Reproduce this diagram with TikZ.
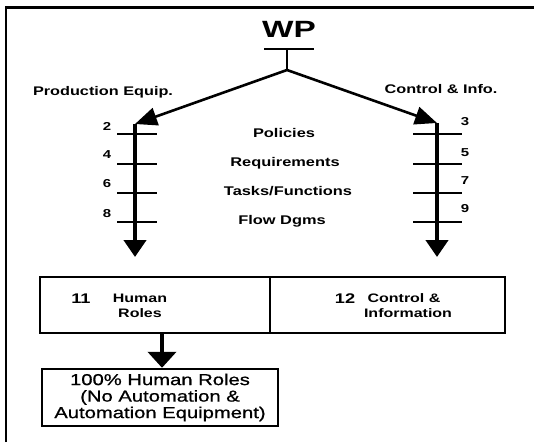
\documentclass[tikz,border=0pt]{standalone}
\usepackage{fontspec}
\setmainfont{Liberation Sans}[FakeStretch=1.3]
\newfontfamily\wpfont{Liberation Sans}[FakeStretch=1.42]
\newfontfamily\heavyfont{Liberation Sans}[FakeStretch=1.28, FakeBold=0.9]
\usetikzlibrary{arrows.meta}

\tikzset{
  frame/.style={line width=2.2pt},
  branch/.style={line width=2.6pt, -{Triangle[length=22pt,width=18pt]}},
  shaft/.style={line width=4.2pt, -{Triangle[length=17pt,width=22pt]}},
  tick/.style={line width=2.8pt},
  box/.style={draw, line width=2.8pt},
  lbl/.style={inner sep=0pt, anchor=base},
  headlbl/.style={lbl, font=\bfseries\fontsize{12.5}{14}\selectfont},
  midlbl/.style={lbl, font=\bfseries\fontsize{12.6}{14}\selectfont},
  numlbl/.style={lbl, font=\bfseries\fontsize{11.5}{13}\selectfont},
  boxnum/.style={lbl, font=\bfseries\fontsize{14}{16}\selectfont},
  boxlbl/.style={lbl, font=\bfseries\fontsize{12.3}{14}\selectfont},
}

\begin{document}
\begin{tikzpicture}[x=1pt, y=-1pt]
\useasboundingbox (0,0) rectangle (534,442);

% open frame: top and left edges only
\coordinate (fTL) at (6,7.5);
\coordinate (fTR) at (534,7.5);
\coordinate (fBL) at (6,442);
\draw[frame] (fBL) -- (fTL) -- (fTR);

% WP head with its bar and stem
\node[lbl, font=\wpfont\bfseries\fontsize{23.5}{25}\selectfont] (wp) at (289,37) {WP};
\coordinate (barL) at (264,49);
\coordinate (barR) at (314,49);
\draw[line width=2.8pt] (barL) -- (barR);
\coordinate (barM) at (287,49);
\coordinate (fork) at (287,70);
\draw[line width=2.8pt] (barM) -- (fork);

% branch tops
\coordinate (lTop) at (135,124);
\coordinate (rTop) at (437,123);
\draw[branch] (fork) -- (lTop);
\draw[branch] (fork) -- (rTop);

\node[headlbl] (prod) at (103,95) {Production Equip.};
\node[headlbl] (ctrl) at (441,93) {Control \& Info.};

% vertical shafts
\coordinate (lBot) at (135,257);
\coordinate (rBot) at (437,257);
\draw[shaft] (lTop) -- (lBot);
\draw[shaft] (rTop) -- (rBot);

% tick marks on the shafts
\foreach \y [count=\i] in {134,164,193,222} {
  \coordinate (lt\i a) at (117,\y);
  \coordinate (lt\i b) at (157,\y);
  \draw[tick] (lt\i a) -- (lt\i b);
  \coordinate (rt\i a) at (413,\y);
  \coordinate (rt\i b) at (462,\y);
  \draw[tick] (rt\i a) -- (rt\i b);
}

% step numbers
\node[numlbl] (n2) at (107,130.5) {2};
\node[numlbl] (n4) at (107,158.5) {4};
\node[numlbl] (n6) at (107,187.5) {6};
\node[numlbl] (n8) at (107,217) {8};
\node[numlbl] (n3) at (465,125.5) {3};
\node[numlbl] (n5) at (465,156.5) {5};
\node[numlbl] (n7) at (465,184.5) {7};
\node[numlbl] (n9) at (465,212.5) {9};

% labels between the shafts
\node[midlbl] (pol) at (284,137) {Policies};
\node[midlbl] (req) at (285,166.5) {Requirements};
\node[midlbl] (tsk) at (288,195.5) {Tasks/Functions};
\node[midlbl] (flw) at (282,224) {Flow Dgms};

% lower boxes
\coordinate (b1a) at (40,277);
\coordinate (b1b) at (270,333);
\coordinate (b2b) at (505,333);
\draw[box] (b1a) rectangle (b2b);
\coordinate (divT) at (270,277);
\draw[line width=2.8pt] (divT) -- (b1b);

\node[boxnum] (n11) at (81,303.5) {11};
\node[boxlbl] (hum) at (140,302) {Human};
\node[boxlbl] (rol) at (140,317) {Roles};
\node[boxnum] (n12) at (345,303.5) {12};
\node[boxlbl] (ci1) at (404,302) {Control \&};
\node[boxlbl] (ci2) at (408,317) {Information};

% final box
\node[box, line width=2.4pt, minimum width=236pt, minimum height=57pt,
      inner sep=0pt, align=center,
      font=\heavyfont\fontsize{15.8}{16.5}\selectfont] (full) at (160,397.5)
  {100\% Human Roles\\(No Automation \&\\Automation Equipment)};

\coordinate (dTop) at (162,333);
\draw[line width=4.6pt, -{Triangle[length=16pt,width=28pt]}] (dTop) -- (full.north -| dTop);
\end{tikzpicture}
\end{document}
